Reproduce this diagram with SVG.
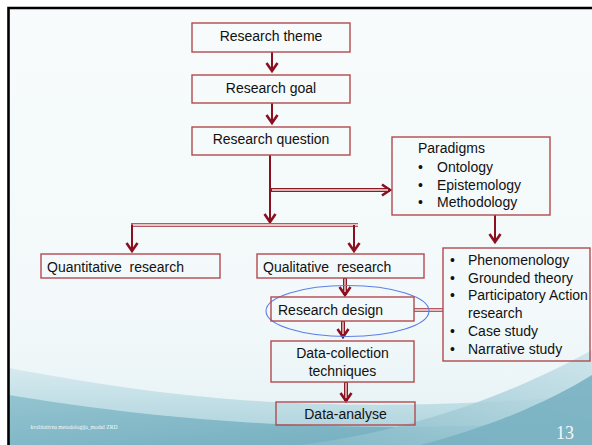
<svg xmlns="http://www.w3.org/2000/svg" width="592" height="445" viewBox="0 0 592 445">
<style>
.box{fill:none;stroke:#b14a4f;stroke-width:1.4}
.t{font-family:"Liberation Sans",Arial,sans-serif;font-size:14px;fill:#111}
.c{text-anchor:middle}
.ln{fill:none;stroke:#8b0f1f;stroke-width:2}
.dout{fill:none;stroke:#8b1a24;stroke-width:4}
.din{fill:none;stroke:#f3e3e3;stroke-width:1.3}
.pout{fill:none;stroke:#b45a62;stroke-width:4}
.pin{fill:none;stroke:#f6eaea;stroke-width:1.4}
</style>
<defs>
<marker id="ah" markerUnits="userSpaceOnUse" markerWidth="16" markerHeight="16" refX="0" refY="0" viewBox="-10 -8 12 16" orient="auto" overflow="visible">
<path d="M-8,-5.5 L0,0 L-8,5.5" fill="none" stroke="#8b0f1f" stroke-width="2.6"/>
</marker>
<linearGradient id="bg" x1="0" y1="0" x2="0" y2="1">
<stop offset="0" stop-color="#f7fbfc"/>
<stop offset="0.7" stop-color="#f3f9fa"/>
<stop offset="1" stop-color="#e4f1f4"/>
</linearGradient>
<linearGradient id="w1" x1="0" y1="0" x2="0" y2="1">
<stop offset="0" stop-color="#d6eaef"/>
<stop offset="1" stop-color="#a8d0da"/>
</linearGradient>
<linearGradient id="w2" x1="0" y1="0" x2="1" y2="1">
<stop offset="0" stop-color="#94c4d0"/>
<stop offset="1" stop-color="#6fabbd"/>
</linearGradient>
<linearGradient id="w3" x1="0" y1="1" x2="1" y2="0">
<stop offset="0" stop-color="#86bac8"/>
<stop offset="1" stop-color="#c9e3ea"/>
</linearGradient>
</defs>
<rect x="0" y="0" width="592" height="445" fill="#ffffff"/>
<rect x="9" y="8" width="583" height="437" fill="url(#bg)"/>
<g id="background-waves">
<path d="M9,368 C140,392 300,420 592,395 L592,445 L9,445 Z" fill="url(#w1)"/>
<path d="M9,395 C150,418 330,438 592,420 L592,445 L9,445 Z" fill="url(#w2)"/>
<path d="M300,445 C420,430 520,390 592,350 L592,445 Z" fill="url(#w3)" opacity="0.85"/>
<path d="M420,445 C500,425 560,395 592,375 L592,445 Z" fill="#79b1c2" opacity="0.9"/>
</g>
<path d="M8.5,445 L8.5,8 L592,8" fill="none" stroke="#000" stroke-width="2.6"/>

<g id="connectors">
<path class="ln" d="M272,52 L272,71" marker-end="url(#ah)"/>
<path class="ln" d="M272,103 L272,123" marker-end="url(#ah)"/>
<path class="ln" d="M270,155 L270,222" marker-end="url(#ah)"/>
<path class="dout" d="M270,190 L390,190" marker-end="url(#ah)"/>
<path class="din" d="M272,190 L388,190"/>
<path class="pout" d="M131,225 L358,225"/>
<path class="pin" d="M133,225 L358,225"/>
<path class="ln" d="M132,225 L132,251" marker-end="url(#ah)"/>
<path class="ln" d="M354,225 L354,251" marker-end="url(#ah)"/>
<path class="ln" d="M495,215 L495,242" marker-end="url(#ah)"/>
<path class="dout" d="M345,278 L345,295" marker-end="url(#ah)"/>
<path class="din" d="M345,279 L345,292"/>
<path class="dout" d="M343,321 L343,337" marker-end="url(#ah)"/>
<path class="din" d="M343,322 L343,334"/>
<path class="dout" d="M346,382 L346,401" marker-end="url(#ah)"/>
<path class="din" d="M346,383 L346,398"/>
<path class="pout" d="M414,310 L443,310"/>
<path class="pin" d="M414,310 L443,310"/>
<ellipse cx="347.5" cy="311" rx="81.5" ry="25.5" fill="none" stroke="#5b7fe8" stroke-width="1.1"/>
</g>

<g id="research-theme">
<rect class="box" x="192" y="23" width="158" height="29"/>
<text class="t c" x="271" y="41">Research theme</text>
</g>
<g id="research-goal">
<rect class="box" x="192" y="75" width="158" height="28"/>
<text class="t c" x="271" y="93">Research goal</text>
</g>
<g id="research-question">
<rect class="box" x="192" y="127" width="158" height="28"/>
<text class="t c" x="271" y="144">Research question</text>
</g>
<g id="paradigms">
<rect class="box" x="392" y="137" width="158" height="78"/>
<text class="t" x="418" y="153">Paradigms</text>
<text class="t" x="418" y="172">•</text>
<text class="t" x="437" y="172">Ontology</text>
<text class="t" x="418" y="189.5">•</text>
<text class="t" x="437" y="189.5">Epistemology</text>
<text class="t" x="418" y="206.5">•</text>
<text class="t" x="437" y="206.5">Methodology</text>
</g>
<g id="quantitative-research">
<rect class="box" x="41" y="254" width="179" height="24"/>
<text class="t" x="47" y="272" xml:space="preserve">Quantitative  research</text>
</g>
<g id="qualitative-research">
<rect class="box" x="257" y="254" width="167" height="24"/>
<text class="t" x="263" y="272" xml:space="preserve">Qualitative  research</text>
</g>
<g id="research-design">
<rect class="box" x="271" y="297" width="143" height="24"/>
<text class="t" x="278" y="315">Research design</text>
</g>
<g id="data-collection">
<rect class="box" x="271" y="341" width="143" height="41"/>
<text class="t c" x="342.5" y="358">Data-collection</text>
<text class="t c" x="342.5" y="376">techniques</text>
</g>
<g id="data-analyse">
<rect class="box" x="276" y="402" width="139" height="23"/>
<text class="t c" x="345.5" y="419">Data-analyse</text>
</g>
<g id="methods">
<rect class="box" x="443" y="248" width="147" height="113"/>
<text class="t" x="450" y="264.5">•</text>
<text class="t" x="468" y="264.5">Phenomenology</text>
<text class="t" x="450" y="282.5">•</text>
<text class="t" x="468" y="282.5">Grounded theory</text>
<text class="t" x="450" y="300">•</text>
<text class="t" x="468" y="300">Participatory Action</text>
<text class="t" x="468" y="318">research</text>
<text class="t" x="450" y="336">•</text>
<text class="t" x="468" y="336">Case study</text>
<text class="t" x="450" y="353.5">•</text>
<text class="t" x="468" y="353.5">Narrative study</text>
</g>
<text x="30.5" y="429" font-family="'Liberation Serif',serif" font-size="5.6" fill="#f4fafb">kvalitativna metodologija_modul ZRD</text>
<text x="556" y="439" font-family="'Liberation Serif',serif" font-size="18" fill="#f4f8f9">13</text>
</svg>
